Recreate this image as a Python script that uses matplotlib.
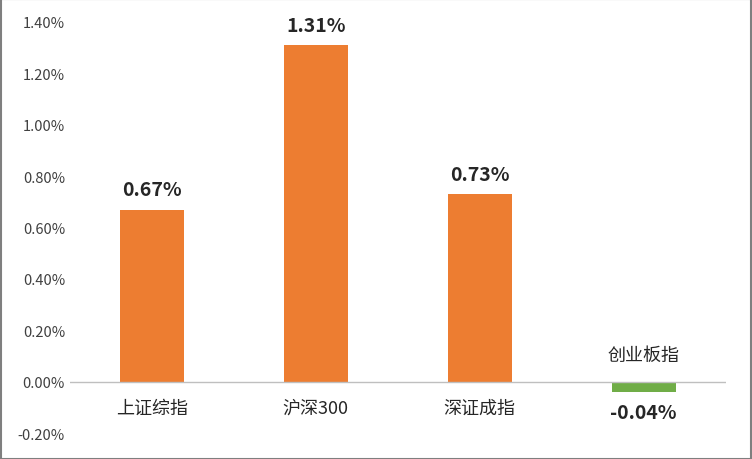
import matplotlib
matplotlib.use("Agg")
import matplotlib.pyplot as plt
from matplotlib.ticker import FuncFormatter

plt.rcParams['font.family'] = ['Noto Sans CJK SC', 'DejaVu Sans']

categories = ["上证综指", "沪深300", "深证成指", "创业板指"]
values = [0.67, 1.31, 0.73, -0.04]
colors = ["#ED7D31", "#ED7D31", "#ED7D31", "#70AD47"]

fig = plt.figure(figsize=(7.52, 4.6), dpi=100)
ax = fig.add_axes([0.093, 0.0565, 0.872, 0.8935])
x = range(len(categories))
ax.bar(x, values, width=0.39, color=colors, zorder=2)
ax.set_xlim(-0.5, len(categories) - 0.5)
ax.set_ylim(-0.2, 1.4)
ax.set_yticks([i * 0.2 for i in range(-1, 8)])
ax.yaxis.set_major_formatter(FuncFormatter(lambda v, p: f"{v:.2f}%"))
ax.tick_params(axis='y', length=0, labelsize=10.5, colors='#404040')
ax.set_xticks([])
for s in ax.spines.values():
    s.set_visible(False)
ax.axhline(0, color='#BFBFBF', lw=1, zorder=3)
for i, (c, v) in enumerate(zip(categories, values)):
    if v >= 0:
        ax.text(i, v + 0.04, f"{v:.2f}%", ha='center', va='bottom', fontsize=14, fontweight='bold', color='#262626')
        ax.text(i, -0.1, c, ha='center', va='center', fontsize=13, color='#262626')
    else:
        ax.text(i, v - 0.045, f"{v:.2f}%", ha='center', va='top', fontsize=14, fontweight='bold', color='#262626')
        ax.text(i, 0.105, c, ha='center', va='center', fontsize=13, color='#262626')
fig.patches.append(plt.Rectangle((0.001, 0.001), 0.998, 0.998, transform=fig.transFigure,
                                 fill=False, edgecolor='#7F7F7F', lw=1.5))
fig.savefig("out.png", dpi=100)
